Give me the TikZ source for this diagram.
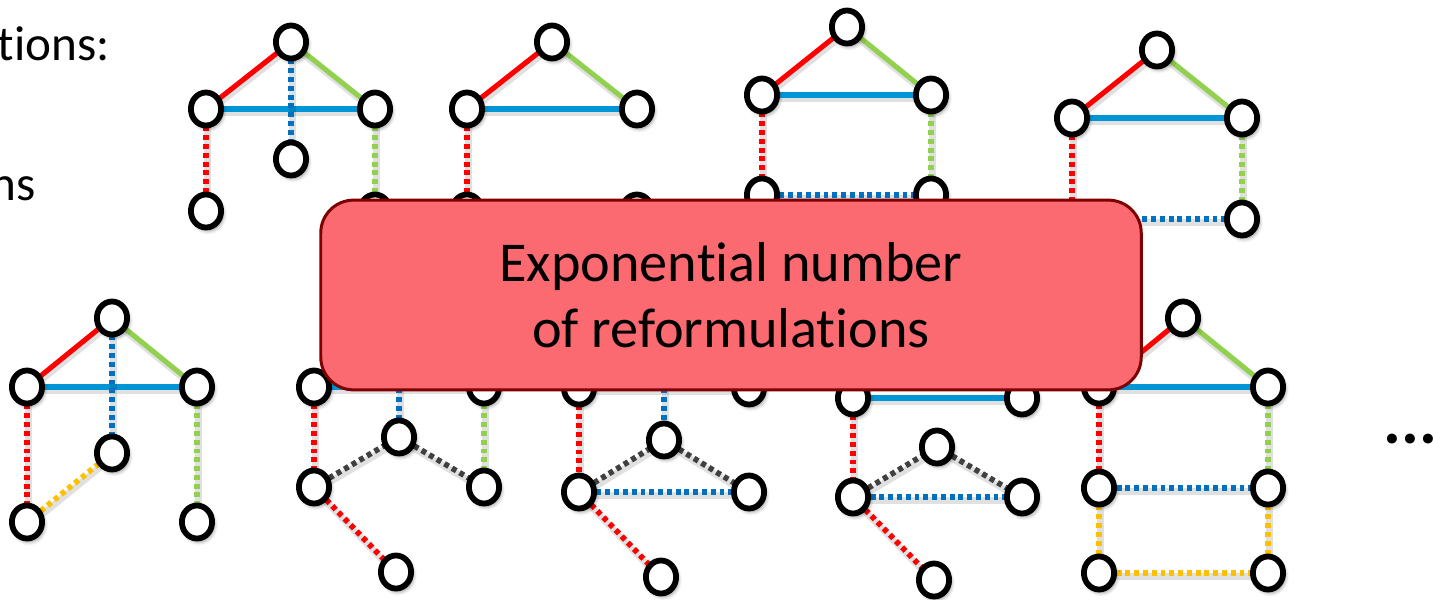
\documentclass[tikz,border=0pt]{standalone}
\usepackage{fontspec}
\setmainfont{Carlito}[Ligatures=NoCommon]
\usetikzlibrary{shapes.geometric,shadows.blur}
\definecolor{cred}{HTML}{FF0000}
\definecolor{cgreen}{HTML}{92D050}
\definecolor{cblue}{HTML}{0096D6}
\definecolor{cdblue}{HTML}{0070C0}
\definecolor{cgray}{HTML}{404040}
\definecolor{corange}{HTML}{FFC000}
\definecolor{boxfill}{HTML}{FA6A70}
\definecolor{boxline}{HTML}{7F0000}
\pgfdeclarelayer{bg}
\pgfsetlayers{bg,main}
\tikzset{
  nd/.style={ellipse, draw=black, line width=3.3pt, fill=white, minimum width=17.2pt, minimum height=18.8pt, inner sep=0pt,
    blur shadow={shadow xshift=1.2pt, shadow yshift=-1.8pt, shadow blur radius=2.2pt, shadow opacity=45}},
  eshadow/.style={preaction={draw=black, draw opacity=0.12, line width=3.8pt, transform canvas={xshift=0.8pt, yshift=-2pt}}},
  sol/.style={line width=2.9pt, eshadow},
  dotl/.style={line width=3.2pt, dash pattern=on 2.8pt off 2.2pt, eshadow},
  slidetext/.style={font=\fontsize{28}{34}\selectfont, inner sep=0pt},
}
\begin{document}
\begin{tikzpicture}[x={(0.02cm,0cm)}, y={(0cm,-0.02cm)}]
\useasboundingbox (0,0) rectangle (1433,599);
\clip (0,0) rectangle (1433,599);

% left partial text
\node[slidetext, anchor=base east] (t1) at (110,60) {tions:};
\node[slidetext, anchor=base east] (t2) at (36,200) {ns};

% Graph A
\node[nd] (a1) at (291,42) {};
\node[nd] (a2) at (206,109) {};
\node[nd] (a3) at (375,109) {};
\node[nd] (a4) at (291,159) {};
\node[nd] (a5) at (206,211) {};
\node[nd] (a6) at (375,211) {};
% Graph B
\node[nd] (b1) at (552,42) {};
\node[nd] (b2) at (467,109) {};
\node[nd] (b3) at (637,109) {};
\node[nd] (b5) at (467,211) {};
\node[nd] (b6) at (637,211) {};
% Graph C
\node[nd] (c1) at (847,27) {};
\node[nd] (c2) at (762,95) {};
\node[nd] (c3) at (931,95) {};
\node[nd] (c5) at (762,195) {};
\node[nd] (c6) at (931,195) {};
% Graph D
\node[nd] (d1) at (1157,50) {};
\node[nd] (d2) at (1072,118) {};
\node[nd] (d3) at (1242,118) {};
\node[nd] (d5) at (1072,219) {};
\node[nd] (d6) at (1242,219) {};
% Graph E
\node[nd] (e1) at (112,318) {};
\node[nd] (e2) at (27,387) {};
\node[nd] (e3) at (197,387) {};
\node[nd] (e4) at (112,453) {};
\node[nd] (e5) at (27,522) {};
\node[nd] (e6) at (197,522) {};
% Graph F
\node[nd] (f1) at (399,318) {};
\node[nd] (f2) at (314,387) {};
\node[nd] (f3) at (484,387) {};
\node[nd] (f4) at (399,437) {};
\node[nd] (f5) at (314,487) {};
\node[nd] (f6) at (484,487) {};
\node[nd] (f7) at (396,572) {};
% Graph G
\node[nd] (g1) at (664,318) {};
\node[nd] (g2) at (579,388) {};
\node[nd] (g3) at (749,388) {};
\node[nd] (g4) at (664,440) {};
\node[nd] (g5) at (579,492) {};
\node[nd] (g6) at (749,492) {};
\node[nd] (g7) at (661,577) {};
% Graph H
\node[nd] (h1) at (937,330) {};
\node[nd] (h2) at (853,398) {};
\node[nd] (h3) at (1022,398) {};
\node[nd] (h4) at (937,447) {};
\node[nd] (h5) at (853,497) {};
\node[nd] (h6) at (1022,497) {};
\node[nd] (h7) at (934,580) {};
% Graph I
\node[nd] (i1) at (1183,318) {};
\node[nd] (i2) at (1099,387) {};
\node[nd] (i3) at (1268,387) {};
\node[nd] (i4) at (1099,488) {};
\node[nd] (i5) at (1268,488) {};
\node[nd] (i6) at (1099,573) {};
\node[nd] (i7) at (1268,573) {};

\begin{pgfonlayer}{bg}
% A
\draw[sol, cred] (a1.center) -- (a2.center);
\draw[sol, cgreen] (a1.center) -- (a3.center);
\draw[sol, cblue] (a2.center) -- (a3.center);
\draw[dotl, cdblue] (a1.center) -- (a4.center);
\draw[dotl, cred] (a2.center) -- (a5.center);
\draw[dotl, cgreen] (a3.center) -- (a6.center);
% B
\draw[sol, cred] (b1.center) -- (b2.center);
\draw[sol, cgreen] (b1.center) -- (b3.center);
\draw[sol, cblue] (b2.center) -- (b3.center);
\draw[dotl, cred] (b2.center) -- (b5.center);
% C
\draw[sol, cred] (c1.center) -- (c2.center);
\draw[sol, cgreen] (c1.center) -- (c3.center);
\draw[sol, cblue] (c2.center) -- (c3.center);
\draw[dotl, cred] (c2.center) -- (c5.center);
\draw[dotl, cgreen] (c3.center) -- (c6.center);
\draw[dotl, cdblue] (c5.center) -- (c6.center);
% D
\draw[sol, cred] (d1.center) -- (d2.center);
\draw[sol, cgreen] (d1.center) -- (d3.center);
\draw[sol, cblue] (d2.center) -- (d3.center);
\draw[dotl, cred] (d2.center) -- (d5.center);
\draw[dotl, cgreen] (d3.center) -- (d6.center);
\draw[dotl, cdblue] (d5.center) -- (d6.center);
% E
\draw[sol, cred] (e1.center) -- (e2.center);
\draw[sol, cgreen] (e1.center) -- (e3.center);
\draw[sol, cblue] (e2.center) -- (e3.center);
\draw[dotl, cdblue] (e1.center) -- (e4.center);
\draw[dotl, cred] (e2.center) -- (e5.center);
\draw[dotl, cgreen] (e3.center) -- (e6.center);
\draw[dotl, corange] (e5.center) -- (e4.center);
% F
\draw[sol, cred] (f1.center) -- (f2.center);
\draw[sol, cgreen] (f1.center) -- (f3.center);
\draw[sol, cblue] (f2.center) -- (f3.center);
\draw[dotl, cdblue] (f1.center) -- (f4.center);
\draw[dotl, cred] (f2.center) -- (f5.center);
\draw[dotl, cgreen] (f3.center) -- (f6.center);
\draw[dotl, cgray] (f5.center) -- (f4.center);
\draw[dotl, cgray] (f4.center) -- (f6.center);
\draw[dotl, cred] (f5.center) -- (f7.center);
% G
\draw[sol, cred] (g1.center) -- (g2.center);
\draw[sol, cgreen] (g1.center) -- (g3.center);
\draw[sol, cblue] (g2.center) -- (g3.center);
\draw[dotl, cdblue] (g1.center) -- (g4.center);
\draw[dotl, cred] (g2.center) -- (g5.center);
\draw[dotl, cgray] (g5.center) -- (g4.center);
\draw[dotl, cgray] (g4.center) -- (g6.center);
\draw[dotl, cdblue] (g5.center) -- (g6.center);
\draw[dotl, cred] (g5.center) -- (g7.center);
% H
\draw[sol, cred] (h1.center) -- (h2.center);
\draw[sol, cgreen] (h1.center) -- (h3.center);
\draw[sol, cblue] (h2.center) -- (h3.center);
\draw[dotl, cred] (h2.center) -- (h5.center);
\draw[dotl, cgray] (h5.center) -- (h4.center);
\draw[dotl, cgray] (h4.center) -- (h6.center);
\draw[dotl, cdblue] (h5.center) -- (h6.center);
\draw[dotl, cred] (h5.center) -- (h7.center);
% I
\draw[sol, cred] (i1.center) -- (i2.center);
\draw[sol, cgreen] (i1.center) -- (i3.center);
\draw[sol, cblue] (i2.center) -- (i3.center);
\draw[dotl, cred] (i2.center) -- (i4.center);
\draw[dotl, cgreen] (i3.center) -- (i5.center);
\draw[dotl, cdblue] (i4.center) -- (i5.center);
\draw[dotl, corange] (i4.center) -- (i6.center);
\draw[dotl, corange] (i5.center) -- (i7.center);
\draw[dotl, corange] (i6.center) -- (i7.center);
\end{pgfonlayer}

% ellipsis
\node[font=\fontsize{38}{40}\bfseries\selectfont, inner sep=0pt, anchor=base west] (dots) at (1383,443) {...};

% overlay box
\node[draw=boxline, fill=boxfill, line width=1.7pt, rounded corners=18.7pt,
      minimum width=467pt, minimum height=108pt, align=center,
      font=\fontsize{32}{37.4}\selectfont] (box) at (731,295)
      {Exponential number\\of reformulations};
\end{tikzpicture}
\end{document}
